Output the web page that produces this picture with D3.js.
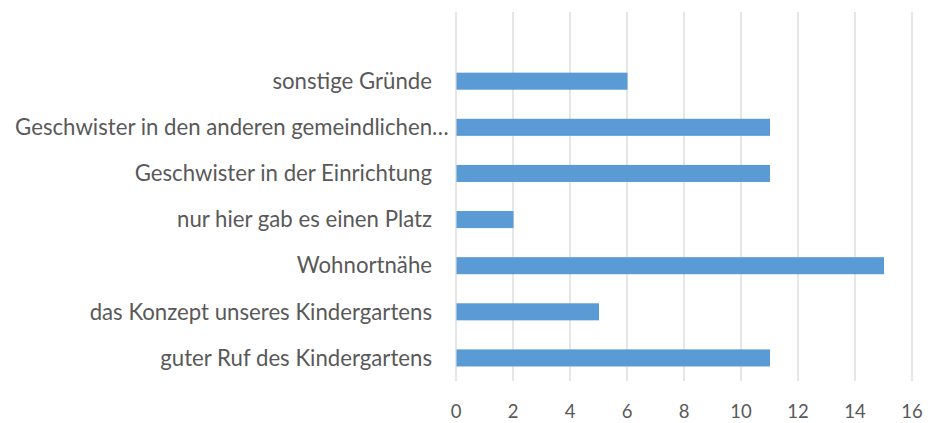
<!DOCTYPE html>
<html>
<head>
<meta charset="utf-8">
<style>
body { margin: 0; background: #fff; }
svg { display: block; font-family: Lato, "Open Sans", sans-serif; }
.lbl { fill: #595959; font-size: 22.2px; }
.tick { fill: #595959; font-size: 18.5px; }
</style>
</head>
<body>
<div id="chart"></div>
<script src="https://cdn.jsdelivr.net/npm/d3@7"></script>
<script>
var categories = [
    'sonstige Gründe',
    'Geschwister in den anderen gemeindlichen…',
    'Geschwister in der Einrichtung',
    'nur hier gab es einen Platz',
    'Wohnortnähe',
    'das Konzept unseres Kindergartens',
    'guter Ruf des Kindergartens'
];
var values = [6, 11, 11, 2, 15, 5, 11];
var xTicks = [0, 2, 4, 6, 8, 10, 12, 14, 16];

var width = 930, height = 423;
var plot = {left: 456, right: 912, top: 12, bottom: 381};
var step = (plot.bottom - plot.top) / 8;

var svg = d3.select('#chart').append('svg')
    .attr('width', width)
    .attr('height', height);

var x = d3.scaleLinear().domain([0, 16]).range([plot.left, plot.right]);
// top band is left empty in the original chart
var y = d3.scaleBand().domain(categories)
    .range([plot.top + step, plot.bottom])
    .paddingInner(0.63).paddingOuter(0.315);

// vertical grid lines
svg.append('g').selectAll('line').data(xTicks)
    .enter().append('line')
    .attr('x1', d => x(d)).attr('x2', d => x(d))
    .attr('y1', plot.top).attr('y2', plot.bottom)
    .attr('stroke', '#d9d9d9')
    .attr('stroke-width', 1.3);

svg.append('g').selectAll('rect').data(values)
    .enter().append('rect')
    .attr('x', x(0) + 0.5)
    .attr('y', (d, i) => y(categories[i]))
    .attr('height', y.bandwidth())
    .attr('width', d => x(d) - x(0))
    .attr('fill', '#5b9bd5');

// category labels
var lbl = svg.append('g').selectAll('text').data(categories)
    .enter().append('text')
    .attr('class', 'lbl')
    .attr('text-anchor', 'end')
    .attr('x', 432)
    .attr('y', d => y(d) + y.bandwidth() / 2)
    .attr('dy', '0.35em')
    .text(d => d);

// truncated label: ellipsis hangs past the right edge of the others
lbl.filter(d => d.endsWith('…')).each(function () {
    var t = d3.select(this);
    var probe = svg.append('text').attr('class', 'lbl').text('…');
    var w = probe.node().getComputedTextLength();
    probe.remove();
    t.attr('x', 432 + w);
});

// x axis tick labels
svg.append('g').selectAll('text').data(xTicks)
    .enter().append('text')
    .attr('class', 'tick')
    .attr('text-anchor', 'middle')
    .attr('x', d => x(d))
    .attr('y', 412)
    .attr('dy', '0.35em')
    .text(d => d);
</script>
</body>
</html>
